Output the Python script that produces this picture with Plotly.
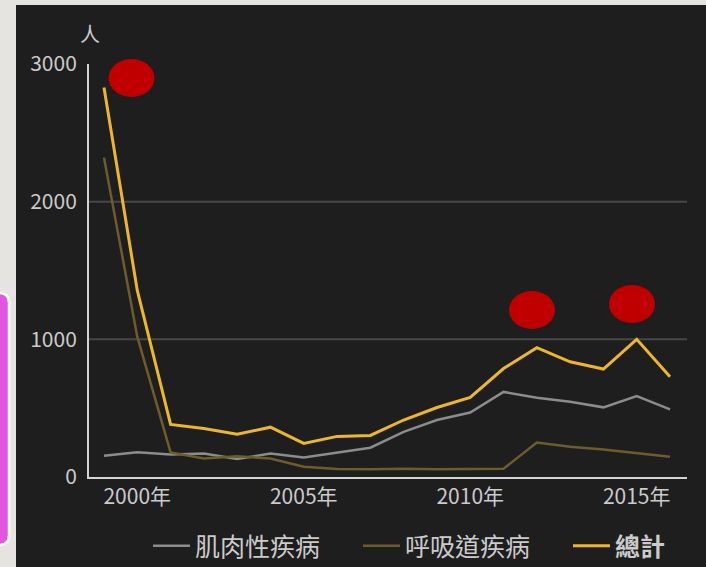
import plotly.graph_objects as go

years = list(range(1999, 2017))
muscle = [154, 179, 164, 171, 130, 171, 142, 179, 213, 328, 414, 468, 618, 576, 547, 506, 588, 491]
resp = [2320, 1019, 179, 135, 150, 135, 74, 58, 57, 60, 57, 57, 60, 251, 220, 200, 171, 147]
total = [2830, 1355, 382, 353, 310, 362, 244, 295, 302, 414, 505, 578, 788, 939, 837, 784, 1000, 728]

series_names = ["肌肉性疾病", "呼吸道疾病", "<b>總計</b>"]
series_colors = ["#8c8c8c", "#6e5c2c", "#ecb72a"]
series_widths = [2.5, 2.5, 3]
legend_widths = [158, 158, 60]

x_tickvals = [2000, 2005, 2010, 2015]
x_ticktext = ["2000年", "2005年", "2010年", "2015年"]
y_tickvals = [0, 1000, 2000, 3000]
grid_vals = [1000, 2000]

W, H = 706, 567
L, R, T, B = 89, 19, 64, 90
PW, PH = W - L - R, H - T - B


def px(x):
    return (x - L) / PW


def py(y):
    return (H - B - y) / PH


FONT = "Noto Sans CJK TC, Noto Sans CJK SC, sans-serif"
TXT = "#cbcbcb"

fig = go.Figure()
for name, vals, col, w, lw in zip(series_names, [muscle, resp, total], series_colors,
                                  series_widths, legend_widths):
    fig.add_trace(go.Scatter(x=years, y=vals, mode="lines", name=name, legendwidth=lw,
                             line=dict(color=col, width=w), hoverinfo="skip"))

shapes = [
    # dark panel
    dict(type="rect", xref="paper", yref="paper", x0=px(16), x1=px(730), y0=py(600), y1=py(5),
         fillcolor="#1e1e1e", line=dict(width=0), layer="below"),
]
for g in grid_vals:
    shapes.append(dict(type="line", xref="paper", yref="y", x0=0, x1=1, y0=g, y1=g,
                       line=dict(color="#474747", width=2), layer="below"))

# pink side box with rounded corners
x0p, x1p, y0p, y1p, r = -30, 9, 293, 545, 10
path = (f"M {px(x0p)},{py(y0p)} L {px(x1p - r)},{py(y0p)} "
        f"Q {px(x1p)},{py(y0p)} {px(x1p)},{py(y0p + r)} "
        f"L {px(x1p)},{py(y1p - r)} Q {px(x1p)},{py(y1p)} {px(x1p - r)},{py(y1p)} "
        f"L {px(x0p)},{py(y1p)} Z")
shapes.append(dict(type="path", xref="paper", yref="paper", path=path,
                   fillcolor="#e056df", line=dict(color="#ffffff", width=2.5), layer="above"))

# red dots
for cx, cy in [(131.5, 78), (532, 310), (632, 304)]:
    shapes.append(dict(type="circle", xref="paper", yref="paper",
                       x0=px(cx - 23), x1=px(cx + 23), y0=py(cy + 19), y1=py(cy - 19),
                       fillcolor="#c00000", line=dict(width=0), layer="above"))

fig.update_layout(
    width=W, height=H,
    margin=dict(l=L, r=R, t=T, b=B, pad=0, autoexpand=False),
    paper_bgcolor="#e6e4e0",
    plot_bgcolor="#1e1e1e",
    font=dict(family=FONT, color=TXT, size=21),
    shapes=shapes,
    showlegend=True,
    legend=dict(orientation="h", x=px(148), xanchor="left", y=py(546), yanchor="middle",
                font=dict(size=25, color=TXT, family=FONT), itemwidth=37,
                bgcolor="rgba(0,0,0,0)", traceorder="normal"),
    annotations=[dict(text="人", xref="paper", yref="paper", x=px(89.5), y=py(34),
                      xanchor="center", yanchor="middle",
                      showarrow=False, font=dict(size=20, color=TXT, family=FONT))],
    xaxis=dict(range=[1998.55, 2016.51], tickvals=x_tickvals, ticktext=x_ticktext,
               showgrid=False, zeroline=False, showline=True, linecolor="#d4d4d4", linewidth=2,
               ticks="", tickfont=dict(size=21, color=TXT)),
    yaxis=dict(range=[0, 3000], tickvals=y_tickvals, showgrid=False, zeroline=False,
               showline=True, linecolor="#d4d4d4", linewidth=2, ticks="",
               ticklabelstandoff=6, tickfont=dict(size=21, color=TXT)),
)

fig.write_html("out.html")
